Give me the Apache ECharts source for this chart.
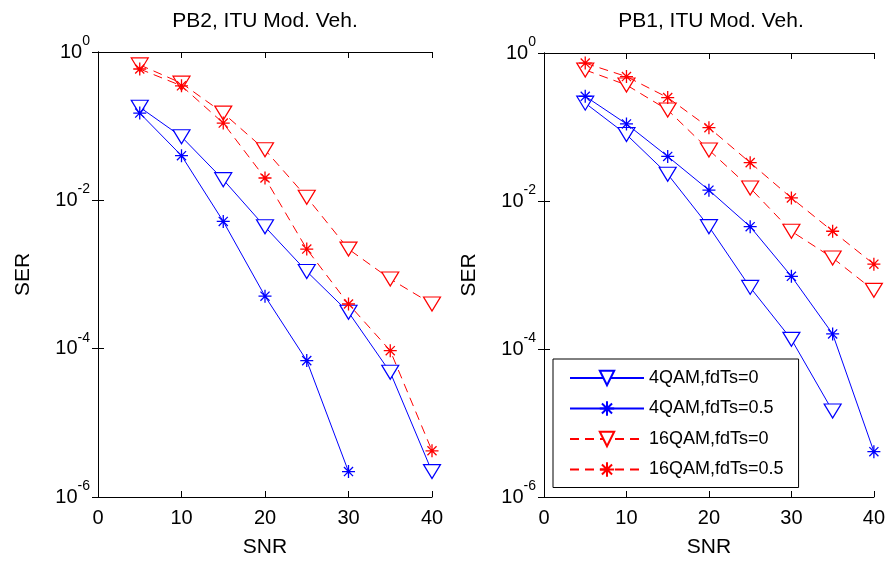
<!DOCTYPE html>
<html>
<head>
<meta charset="utf-8">
<script src="https://cdn.jsdelivr.net/npm/echarts@6/dist/echarts.min.js"></script>
<style>
  html, body { margin: 0; padding: 0; background: #fff; }
  #chart { width: 888px; height: 563px; }
</style>
</head>
<body>
<div id="chart"></div>
<script>
// SNR points (dB)
var snr = [5, 10, 15, 20, 25, 30, 35, 40];
var xTicks = [0, 10, 20, 30, 40];

var titles = ["PB2, ITU Mod. Veh.", "PB1, ITU Mod. Veh."];
var seriesNames = ["4QAM,fdTs=0", "4QAM,fdTs=0.5", "16QAM,fdTs=0", "16QAM,fdTs=0.5"];

// PB2 panel (left)
var pb2_4qam_0   = [0.18, 0.072, 0.019, 0.0044, 0.0011, 3.1e-4, 4.8e-5, 2.2e-6];
var pb2_4qam_05  = [0.15, 0.040, 0.0052, 5.1e-4, 6.9e-5, 2.2e-6];
var pb2_16qam_0  = [0.67, 0.38, 0.15, 0.048, 0.011, 0.0022, 8.7e-4, 4.0e-4];
var pb2_16qam_05 = [0.59, 0.35, 0.11, 0.020, 0.0022, 4.0e-4, 9.4e-5, 4.2e-6];

// PB1 panel (right)
var pb1_4qam_0   = [0.21, 0.079, 0.023, 0.0045, 6.8e-4, 1.35e-4, 1.45e-5];
var pb1_4qam_05  = [0.26, 0.11, 0.040, 0.014, 0.0045, 9.6e-4, 1.6e-4, 4.1e-6];
var pb1_16qam_0  = [0.59, 0.37, 0.17, 0.049, 0.015, 0.0039, 0.0017, 6.2e-4];
var pb1_16qam_05 = [0.73, 0.48, 0.25, 0.098, 0.033, 0.011, 0.0039, 0.0014];

var FONT = "Liberation Sans";
var BLUE = "#0000ff", RED = "#ff0000";
var TRI = "path://M0,0L20,0L10,17Z";
var STAR = "path://M5,0L5,10M0,5L10,5M1.5,1.5L8.5,8.5M1.5,8.5L8.5,1.5";

function pairs(ys) {
    return ys.map(function (y, i) { return [snr[i], y]; });
}

function line(name, idx, ys, color, dashed, star) {
    return {
        name: name,
        type: "line",
        xAxisIndex: idx,
        yAxisIndex: idx,
        data: pairs(ys),
        symbol: star ? STAR : TRI,
        symbolSize: star ? 13 : [17, 14],
        symbolKeepAspect: false,
        lineStyle: { color: color, width: 1, type: dashed ? [9, 6] : "solid" },
        itemStyle: star
            ? { color: color, borderColor: color, borderWidth: 1.3 }
            : { color: "#fff", borderColor: color, borderWidth: 1.2 },
        emphasis: { disabled: true },
        animation: false,
        z: star ? 3 : 2
    };
}

var grids = [
    { left: 98, top: 52, width: 334, height: 446 },
    { left: 544, top: 53, width: 334, height: 445 }
];

function logLabel(v) {
    var e = Math.round(Math.log10(v));
    return "{b|10}{s|" + e + "}";
}

var xAxes = [], yAxes = [];
[0, 1].forEach(function (g) {
    xAxes.push({
        type: "value", gridIndex: g, min: 0, max: 40, interval: 10,
        name: "SNR", nameLocation: "middle", nameGap: 40,
        nameTextStyle: { fontFamily: FONT, fontSize: 21, color: "#000" },
        axisLine: { lineStyle: { color: "#000", width: 1 } },
        axisTick: { inside: true, length: 6, lineStyle: { color: "#000" } },
        axisLabel: { fontFamily: FONT, fontSize: 20, color: "#000", margin: 11 },
        splitLine: { show: false }
    });
    yAxes.push({
        type: "log", logBase: 10, gridIndex: g, min: 1e-6, max: 1,
        name: "SER", nameLocation: "middle", nameGap: 64, nameRotate: 90,
        nameTextStyle: { fontFamily: FONT, fontSize: 21, color: "#000" },
        axisLine: { lineStyle: { color: "#000", width: 1 } },
        axisTick: { inside: true, length: 6, lineStyle: { color: "#000" },
                    customValues: [1, 1e-2, 1e-4, 1e-6] },
        axisLabel: {
            customValues: [1, 1e-2, 1e-4, 1e-6],
            formatter: logLabel, margin: 8,
            rich: {
                b: { fontFamily: FONT, fontSize: 20, color: "#000", lineHeight: 20 },
                s: { fontFamily: FONT, fontSize: 14, color: "#000", lineHeight: 14, padding: [0, 0, 22, 0] }
            }
        },
        splitLine: { show: false }
    });
});
// mirrored axes for the box ticks on top and right
[0, 1].forEach(function (g) {
    xAxes.push({
        type: "value", gridIndex: g, position: "top", min: 0, max: 40, interval: 10,
        axisLine: { lineStyle: { color: "#000", width: 1 } },
        axisTick: { inside: true, length: 6, lineStyle: { color: "#000" } },
        axisLabel: { show: false }, splitLine: { show: false }
    });
    yAxes.push({
        type: "log", logBase: 10, gridIndex: g, position: "right", min: 1e-6, max: 1,
        axisLine: { lineStyle: { color: "#000", width: 1 } },
        axisTick: { inside: true, length: 6, lineStyle: { color: "#000" },
                    customValues: [1, 1e-2, 1e-4, 1e-6] },
        axisLabel: { show: false }, splitLine: { show: false }
    });
});

var series = [
    line(seriesNames[0], 0, pb2_4qam_0, BLUE, false, false),
    line(seriesNames[1], 0, pb2_4qam_05, BLUE, false, true),
    line(seriesNames[2], 0, pb2_16qam_0, RED, true, false),
    line(seriesNames[3], 0, pb2_16qam_05, RED, true, true),
    line(seriesNames[0], 1, pb1_4qam_0, BLUE, false, false),
    line(seriesNames[1], 1, pb1_4qam_05, BLUE, false, true),
    line(seriesNames[2], 1, pb1_16qam_0, RED, true, false),
    line(seriesNames[3], 1, pb1_16qam_05, RED, true, true)
];

var chart = echarts.init(document.getElementById("chart"));
chart.setOption({
    backgroundColor: "#fff",
    animation: false,
    title: [
        { text: titles[0], left: 265, top: 11, textAlign: "center", padding: 0,
          textStyle: { fontFamily: FONT, fontSize: 21, fontWeight: "normal", color: "#000" } },
        { text: titles[1], left: 711, top: 11, textAlign: "center", padding: 0,
          textStyle: { fontFamily: FONT, fontSize: 21, fontWeight: "normal", color: "#000" } }
    ],
    legend: {
        data: seriesNames,
        orient: "vertical",
        left: 553, top: 359,
        padding: [10, 15, 9, 16],
        itemWidth: 74, itemHeight: 18, itemGap: 12.5,
        backgroundColor: "#fff",
        borderColor: "#000", borderWidth: 1,
        textStyle: { fontFamily: FONT, fontSize: 18, color: "#000" },
        selectedMode: false
    },
    grid: grids,
    xAxis: xAxes,
    yAxis: yAxes,
    series: series
});
</script>
</body>
</html>
